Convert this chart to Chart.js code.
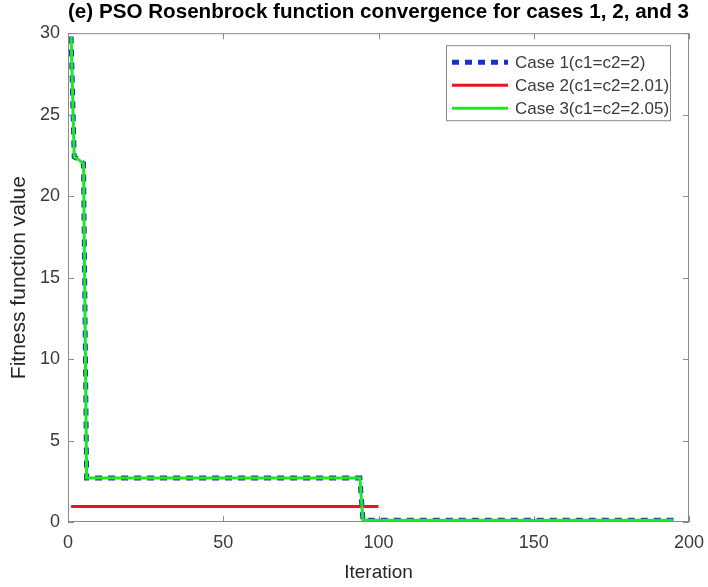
<!DOCTYPE html>
<html>
<head>
<meta charset="utf-8">
<script src="https://cdn.jsdelivr.net/npm/chart.js@4.4.0/dist/chart.umd.min.js"></script>
<style>
  html, body { margin: 0; padding: 0; background: #fff; }
  #wrap { width: 708px; height: 587px; }
</style>
</head>
<body>
<div id="wrap"><canvas id="convChart" width="708" height="587"></canvas></div>
<script>
// values (iteration, best fitness)
const case1Iter = [1, 2, 3, 5, 6, 94, 95, 195];
const case1Value = [29.8, 22.4, 22.3, 22.0, 2.7, 2.7, 0.1, 0.1];
const case2Iter = [1, 100];
const case2Value = [0.95, 0.95];
const case3Iter = [1, 2, 3, 5, 6, 94, 95, 195];
const case3Value = [29.8, 22.4, 22.3, 22.0, 2.7, 2.7, 0.1, 0.1];

const seriesLabels = ["Case 1(c1=c2=2)", "Case 2(c1=c2=2.01)", "Case 3(c1=c2=2.05)"];
const xTicks = [0, 50, 100, 150, 200];
const yTicks = [0, 5, 10, 15, 20, 25, 30];

const FONT = "'Liberation Sans', Arial, Helvetica, sans-serif";
const AXIS_GREY = "#8a8a8a";
const TEXT_GREY = "#3a3a3a";

function toPoints(xs, ys) {
  return xs.map((x, i) => ({ x: x, y: ys[i] }));
}

// MATLAB style box with inward ticks on all four sides
const matlabAxes = {
  id: "matlabAxes",
  afterDatasetsDraw(chart) {
    const { ctx, chartArea: a, scales } = chart;
    const len = 6;
    ctx.save();
    ctx.strokeStyle = AXIS_GREY;
    ctx.lineWidth = 1;
    ctx.strokeRect(a.left + 0.5, a.top + 0.5, a.right - a.left - 1, a.bottom - a.top - 1);
    ctx.beginPath();
    xTicks.forEach((v) => {
      const px = Math.round(scales.x.getPixelForValue(v)) + 0.5;
      ctx.moveTo(px, a.bottom);
      ctx.lineTo(px, a.bottom - len);
      ctx.moveTo(px, a.top);
      ctx.lineTo(px, a.top + len);
    });
    yTicks.forEach((v) => {
      const py = Math.round(scales.y.getPixelForValue(v)) + 0.5;
      ctx.moveTo(a.left, py);
      ctx.lineTo(a.left + len, py);
      ctx.moveTo(a.right, py);
      ctx.lineTo(a.right - len, py);
    });
    ctx.stroke();
    ctx.restore();
  },
};

// legend box inside the top right of the plot
const boxLegend = {
  id: "boxLegend",
  afterDraw(chart) {
    const { ctx, chartArea: a } = chart;
    const w = 224, h = 75;
    const x0 = a.right - 19 - w;
    const y0 = a.top + 12;
    ctx.save();
    ctx.fillStyle = "#fff";
    ctx.fillRect(x0, y0, w, h);
    ctx.strokeStyle = AXIS_GREY;
    ctx.lineWidth = 1;
    ctx.strokeRect(x0 + 0.5, y0 + 0.5, w, h);
    ctx.font = "17px " + FONT;
    ctx.textBaseline = "middle";
    chart.data.datasets.forEach((ds, i) => {
      const y = y0 + 17 + i * 23;
      ctx.beginPath();
      ctx.strokeStyle = ds.borderColor;
      ctx.lineWidth = ds.borderWidth;
      ctx.setLineDash(ds.borderDash || []);
      ctx.moveTo(x0 + 6, y);
      ctx.lineTo(x0 + 62, y);
      ctx.stroke();
      ctx.setLineDash([]);
      ctx.fillStyle = TEXT_GREY;
      ctx.fillText(ds.label, x0 + 69, y + 1);
    });
    ctx.restore();
  },
};

const ctx = document.getElementById("convChart").getContext("2d");

new Chart(ctx, {
  type: "line",
  data: {
    datasets: [
      {
        label: seriesLabels[0],
        data: toPoints(case1Iter, case1Value),
        borderColor: "#1535c8",
        borderWidth: 5,
        borderDash: [7, 6],
        pointRadius: 0,
        tension: 0,
        order: 3,
      },
      {
        label: seriesLabels[1],
        data: toPoints(case2Iter, case2Value),
        borderColor: "#e8151b",
        borderWidth: 3,
        pointRadius: 0,
        tension: 0,
        order: 2,
      },
      {
        label: seriesLabels[2],
        data: toPoints(case3Iter, case3Value),
        borderColor: "#1ee81e",
        borderWidth: 3,
        pointRadius: 0,
        tension: 0,
        order: 1,
      },
    ],
  },
  options: {
    responsive: false,
    animation: false,
    layout: {
      padding: { top: 0, right: 19, bottom: 0, left: 0 },
    },
    plugins: {
      legend: { display: false },
      tooltip: { enabled: false },
      title: {
        display: true,
        fullSize: false,
        text: "(e) PSO Rosenbrock function convergence for cases 1, 2, and 3",
        color: "#000",
        font: { family: FONT, size: 21, weight: "bold", lineHeight: 1.2 },
        padding: { top: 0, bottom: 8 },
      },
    },
    scales: {
      x: {
        type: "linear",
        min: 0,
        max: 200,
        afterBuildTicks: (scale) => {
          scale.ticks = xTicks.map((v) => ({ value: v }));
        },
        afterFit: (scale) => {
          scale.height = 65;
          scale.paddingLeft = 0;
          scale.paddingRight = 0;
        },
        grid: { drawOnChartArea: false, drawTicks: false },
        border: { display: false },
        ticks: {
          color: TEXT_GREY,
          padding: 10,
          maxRotation: 0,
          font: { family: FONT, size: 18 },
        },
        title: {
          display: true,
          text: "Iteration",
          color: "#262626",
          font: { family: FONT, size: 19 },
          padding: { top: 0, bottom: 3 },
        },
      },
      y: {
        type: "linear",
        min: 0,
        max: 30,
        afterBuildTicks: (scale) => {
          scale.ticks = yTicks.map((v) => ({ value: v }));
        },
        afterFit: (scale) => {
          scale.width = 68;
        },
        grid: { drawOnChartArea: false, drawTicks: false },
        border: { display: false },
        ticks: {
          color: TEXT_GREY,
          padding: 8,
          font: { family: FONT, size: 18 },
        },
        title: {
          display: true,
          text: "Fitness function value",
          color: "#262626",
          font: { family: FONT, size: 21 },
          padding: { top: 7, bottom: 0 },
        },
      },
    },
  },
  plugins: [matlabAxes, boxLegend],
});
</script>
</body>
</html>
